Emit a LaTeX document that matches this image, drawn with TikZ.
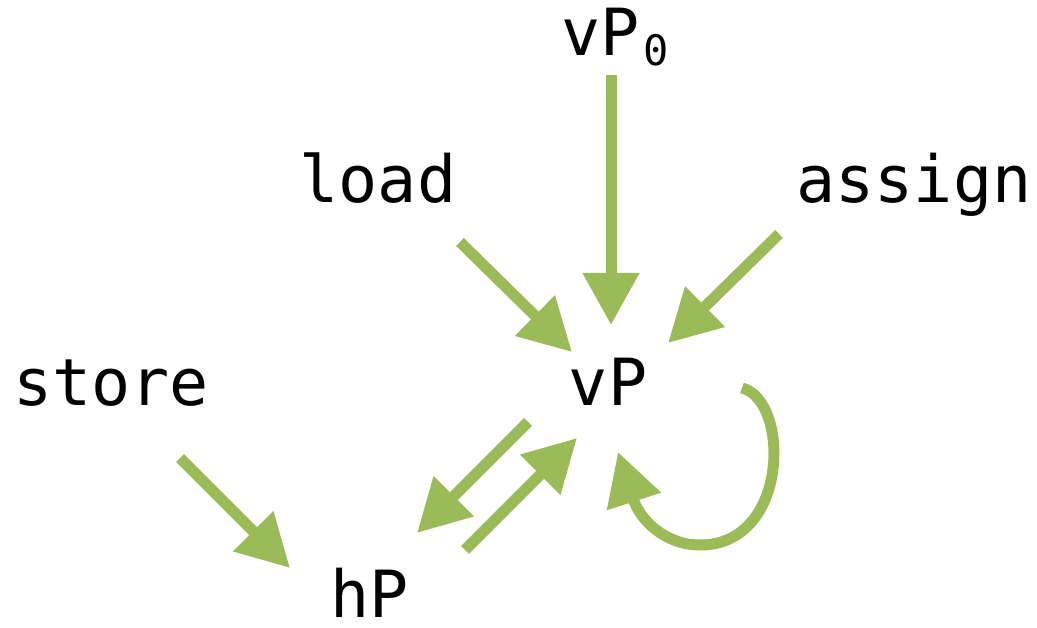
\documentclass[tikz,border=0pt]{standalone}
\usepackage{fontspec}
\setmonofont{DejaVu Sans Mono}
\usetikzlibrary{arrows.meta}
\definecolor{flowgreen}{RGB}{155,187,89}
\begin{document}
\begin{tikzpicture}[x=1pt,y=-1pt,
  lbl/.style={anchor=base,inner sep=0pt,font=\fontsize{65}{65}\selectfont\ttfamily},
  flow/.style={draw=flowgreen,line width=11pt,-{Triangle[length=52pt,width=54pt]}}]
\useasboundingbox (0,0) rectangle (1037,628);

% variable and statement labels
\node[lbl,anchor=base west] (v0) at (561,56) {vP\kern4pt\raisebox{-10pt}{\fontsize{42}{42}\selectfont 0}};
\node[lbl] (load) at (378,203) {load};
\node[lbl] (assign) at (914,203) {assign};
\node[lbl] (store) at (111,406) {store};
\node[lbl] (vP) at (608,406) {vP};
\node[lbl] (hP) at (370,617) {hP};

% flows into vP
\draw[flow] ([shift={(50,19)}]v0.base west) -- ([shift={(3,-81)}]vP.base);
\draw[flow] ([shift={(82,39)}]load.base) -- ([shift={(-36,-54)}]vP.base);
\draw[flow] ([shift={(-135,31)}]assign.base) -- ([shift={(60,-63)}]vP.base);

% store into hP
\draw[flow] ([shift={(69,52)}]store.base) -- ([shift={(-80,-49)}]hP.base);

% exchange between vP and hP
\draw[flow] ([shift={(-80,16)}]vP.base) -- ([shift={(47,-84)}]hP.base);
\draw[flow] ([shift={(95,-67)}]hP.base) -- ([shift={(-31,32)}]vP.base);

% self loop on vP
\draw[flow] ([shift={(134,-18)}]vP.base)
  .. controls ([shift={(182,-6)}]vP.base) and ([shift={(182,139)}]vP.base) .. ([shift={(92,139)}]vP.base)
  .. controls ([shift={(57,139)}]vP.base) and ([shift={(32,114)}]vP.base) .. ([shift={(10,46)}]vP.base);
\end{tikzpicture}
\end{document}
